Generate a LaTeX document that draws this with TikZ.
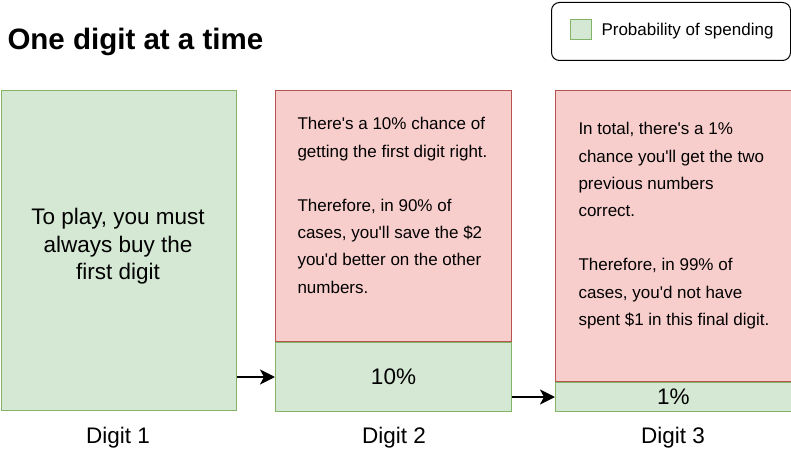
\documentclass[tikz,border=0pt]{standalone}
\usepackage{fontspec}
\setmainfont{Liberation Sans}[Ligatures=TeXOff]
\usepackage{xcolor}
\definecolor{mygreen}{RGB}{213,232,212}
\definecolor{mygreenline}{RGB}{130,179,102}
\definecolor{myred}{RGB}{248,206,204}
\definecolor{myredline}{RGB}{184,84,80}
\usetikzlibrary{arrows.meta}

\begin{document}
\begin{tikzpicture}[x=1pt,y=-1pt,line width=1pt,
	jian/.style={-{Stealth[length=15pt,width=15pt,inset=4pt]},line width=2.5pt}]
	\tikzstyle{lv}=[draw=mygreenline,fill=mygreen,inner sep=0pt,anchor=north west,minimum width=236pt];
	\tikzstyle{hong}=[draw=myredline,fill=myred,inner sep=0pt,anchor=north west,minimum width=236pt];
	\tikzstyle{da}=[font=\fontsize{22.5}{27.5}\selectfont];
	\tikzstyle{xiao}=[font=\fontsize{17}{27.2}\selectfont,inner sep=0pt,align=left,anchor=north west];
	\useasboundingbox (0,0) rectangle (791,462);
	%% Title
	\node[font=\fontsize{29.5}{34}\selectfont\bfseries,anchor=base west,inner sep=0pt] (title) at (7,50) {One digit at a time};
	%% Legend
	\node[draw,rounded corners=8pt,minimum width=239pt,minimum height=58pt,anchor=north west,inner sep=0pt] (leg) at (551,2) {};
	\node[lv,minimum width=21pt,minimum height=20pt,anchor=center] (key) at (580.5,30) {};
	\node[font=\fontsize{17}{20}\selectfont,anchor=base west,inner sep=0pt] (keytxt) at (601,36) {Probability of spending};
	%% Digit 1
	\node[lv,minimum width=235.5pt,minimum height=320pt] (d1) at (0.5,90) {};
	\node[da,align=center,anchor=north,inner sep=0pt] (t1) at (118,208) {To play, you must\\always buy the\\first digit};
	%% Digit 2
	\node[hong,minimum height=251pt] (r2) at (275,90) {};
	\node[lv,minimum height=69pt,da] (g2) at (r2.south west) {10\%};
	\node[xiao] (t2) at (297,117) {There's a 10\% chance of\\getting the first digit right.\\[27.2pt]Therefore, in 90\% of\\cases, you'll save the \$2\\you'd better on the other\\numbers.};
	%% Digit 3
	\node[hong,minimum width=235.5pt,minimum height=291pt] (r3) at (555,90) {};
	\node[lv,minimum width=235.5pt,minimum height=29pt,da] (g3) at (r3.south west) {1\%};
	\node[xiao] (t3) at (578,122) {In total, there's a 1\%\\chance you'll get the two\\previous numbers\\correct.\\[27.2pt]Therefore, in 99\% of\\cases, you'd not have\\spent \$1 in this final digit.};
	%% Arrows
	\draw[jian] (d1.east |- g2.west) -- (g2.west);
	\draw[jian] (g2.east |- g3.west) -- (g3.west);
	%% Labels
	\node[da,anchor=base] (lab1) at (118,443) {Digit 1};
	\node[da,anchor=base] (lab2) at (394,443) {Digit 2};
	\node[da,anchor=base] (lab3) at (673,443) {Digit 3};
\end{tikzpicture}
\end{document}
